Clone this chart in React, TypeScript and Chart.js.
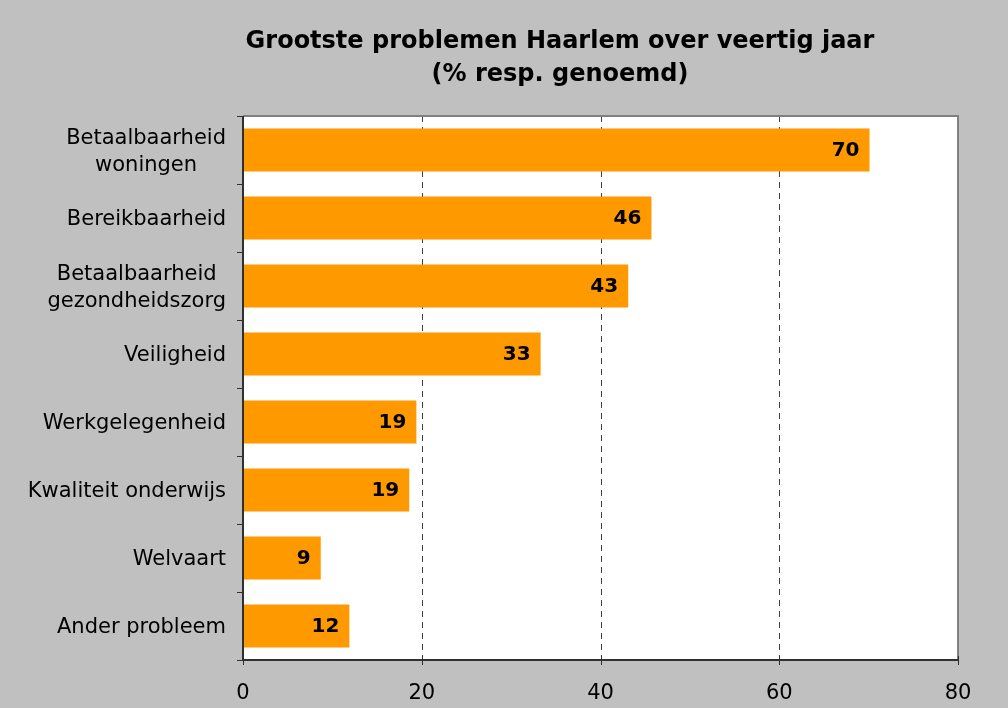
import React, { useEffect, useRef } from "react";
import { Chart, registerables } from "chart.js";

Chart.register(...registerables);

const titleLines = ["Grootste problemen Haarlem over veertig jaar", "(% resp. genoemd)"];
const categories: string[][] = [
  ["Betaalbaarheid", "woningen"],
  ["Bereikbaarheid"],
  ["Betaalbaarheid", "gezondheidszorg"],
  ["Veiligheid"],
  ["Werkgelegenheid"],
  ["Kwaliteit onderwijs"],
  ["Welvaart"],
  ["Ander probleem"],
];
const values = [70.1, 45.7, 43.1, 33.3, 19.4, 18.6, 8.7, 11.9];
const valueLabels = ["70", "46", "43", "33", "19", "19", "9", "12"];
const xTicks = [0, 20, 40, 60, 80];
const gridValues = [20, 40, 60];

const FONT = "'DejaVu Sans', Verdana, sans-serif";

const decor = {
  id: "decor",
  beforeDraw(chart: any) {
    const { ctx, chartArea: a, width, height } = chart;
    ctx.save();
    ctx.fillStyle = "#C0C0C0";
    ctx.fillRect(0, 0, width, height);
    ctx.fillStyle = "#FFFFFF";
    ctx.fillRect(a.left, a.top, a.right - a.left, a.bottom - a.top);
    const xs = chart.scales.x;
    ctx.strokeStyle = "#404040";
    ctx.lineWidth = 1;
    ctx.setLineDash([6, 5]);
    for (const v of gridValues) {
      const x = Math.round(xs.getPixelForValue(v)) + 0.5;
      ctx.beginPath();
      ctx.moveTo(x, a.top);
      ctx.lineTo(x, a.bottom);
      ctx.stroke();
    }
    ctx.restore();
  },
  afterDatasetsDraw(chart: any) {
    const { ctx, chartArea: a } = chart;
    const xs = chart.scales.x;
    const ys = chart.scales.y;
    ctx.save();
    // plot border (top/right)
    ctx.strokeStyle = "#808080";
    ctx.lineWidth = 2;
    ctx.beginPath();
    ctx.moveTo(a.left, a.top);
    ctx.lineTo(a.right, a.top);
    ctx.lineTo(a.right, a.bottom);
    ctx.stroke();
    // axes
    ctx.strokeStyle = "#303030";
    ctx.lineWidth = 2;
    ctx.beginPath();
    ctx.moveTo(a.left, a.top);
    ctx.lineTo(a.left, a.bottom);
    ctx.lineTo(a.right, a.bottom);
    ctx.stroke();
    // x ticks
    ctx.lineWidth = 1;
    for (const v of xTicks) {
      const x = Math.round(xs.getPixelForValue(v)) + 0.5;
      ctx.beginPath();
      ctx.moveTo(x, a.bottom - 4);
      ctx.lineTo(x, a.bottom + 5);
      ctx.stroke();
    }
    // y ticks at category boundaries
    for (let i = 0; i <= categories.length; i++) {
      const y = Math.round(ys.getPixelForValue(i - 0.5)) + 0.5;
      ctx.beginPath();
      ctx.moveTo(a.left - 6, y);
      ctx.lineTo(a.left, y);
      ctx.stroke();
    }
    // y labels
    ctx.fillStyle = "#000";
    ctx.font = `21px ${FONT}`;
    ctx.textAlign = "center";
    ctx.textBaseline = "middle";
    const lineH = 27;
    const rightEdge = a.left - 17;
    categories.forEach((lines, i) => {
      const cy = ys.getPixelForValue(i) + 2;
      const w = Math.max(...lines.map((l) => ctx.measureText(l).width));
      const cx = rightEdge - w / 2;
      lines.forEach((l, j) => {
        ctx.fillText(l, cx, cy + (j - (lines.length - 1) / 2) * lineH);
      });
    });
    // value labels
    ctx.font = `bold 20px ${FONT}`;
    ctx.textAlign = "right";
    const meta = chart.getDatasetMeta(0);
    meta.data.forEach((el: any, i: number) => {
      ctx.fillText(valueLabels[i], el.x - 10, el.y + 1);
    });
    // title
    ctx.font = `bold 24px ${FONT}`;
    ctx.textAlign = "center";
    ctx.fillText(titleLines[0], 560, 42);
    ctx.fillText(titleLines[1], 560, 75);
    ctx.restore();
  },
};

export default function App() {
  const ref = useRef<HTMLCanvasElement>(null);
  useEffect(() => {
    const chart = new Chart(ref.current!, {
      type: "bar",
      data: {
        labels: categories.map((c) => c.join(" ")),
        datasets: [
          {
            data: values,
            backgroundColor: "#FF9900",
            borderWidth: 0,
            barPercentage: 0.63,
            categoryPercentage: 1,
          },
        ],
      },
      options: {
        indexAxis: "y",
        responsive: false,
        animation: false,
        layout: { padding: { top: 116, right: 50, bottom: 8, left: 0 } },
        plugins: {
          legend: { display: false },
          tooltip: { enabled: false },
          title: { display: false },
        },
        scales: {
          x: {
            min: 0,
            max: 80,
            ticks: {
              stepSize: 20,
              color: "#000",
              font: { family: FONT, size: 21 },
              padding: 13,
            },
            grid: { display: false },
            border: { display: false },
            afterFit: (s: any) => {
              s.height = 40;
            },
          },
          y: {
            ticks: { display: false },
            grid: { display: false },
            border: { display: false },
            afterFit: (s: any) => {
              s.width = 243;
            },
          },
        },
      },
      plugins: [decor],
    });
    return () => chart.destroy();
  }, []);
  return (
    <div style={{ position: "fixed", left: 0, top: 0, width: 1008, height: 708 }}>
      <canvas ref={ref} width={1008} height={708} style={{ width: 1008, height: 708 }} />
    </div>
  );
}
